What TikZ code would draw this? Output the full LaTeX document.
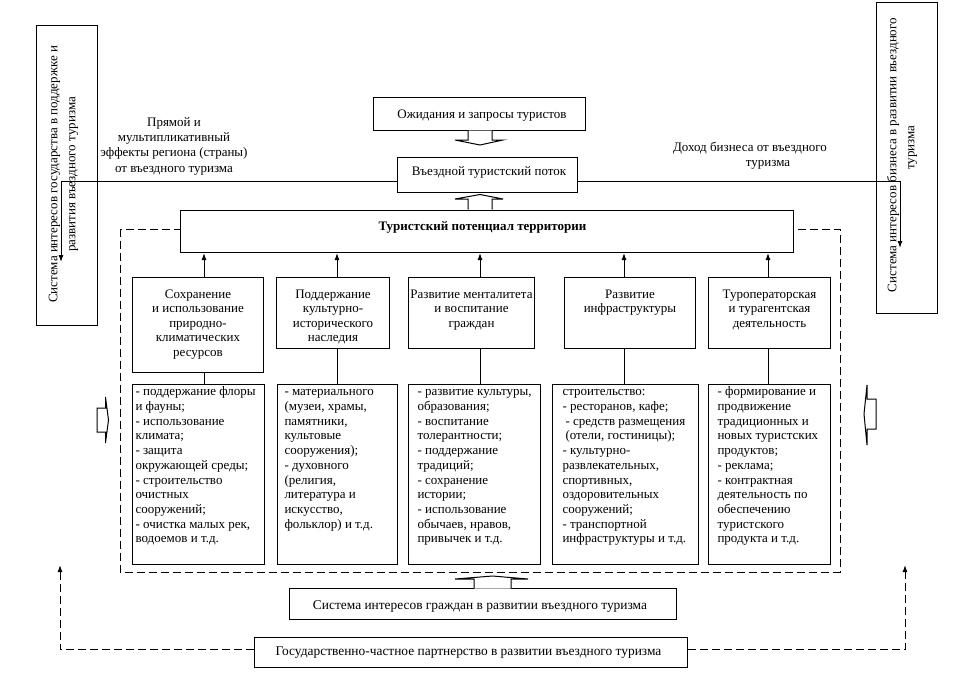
\documentclass[tikz,border=0pt]{standalone}
\usepackage{fontspec}
\setmainfont{Liberation Serif}
\usetikzlibrary{arrows.meta}
\begin{document}
\begin{tikzpicture}[x=1pt,y=-1pt,line width=1pt,
  box/.style={draw,rectangle,inner sep=0pt,anchor=north west,fill=white},
  ctxt/.style={font=\fontsize{13}{14.5}\selectfont,align=center,inner sep=0pt},
  btxt/.style={font=\fontsize{13.4}{14.5}\selectfont,align=center,inner sep=0pt},
  ltxt/.style={font=\fontsize{13}{14.7}\selectfont,align=left,inner sep=0pt,anchor=north west},
  rtxt/.style={font=\fontsize{13}{18}\selectfont,align=center,inner sep=0pt,rotate=90},
  arr/.style={-{Latex[length=7pt,width=5pt]}},
  dsh/.style={dash pattern=on 8pt off 4pt},
  blk/.style={draw,fill=white,line width=1pt},
]
\useasboundingbox (0,0) rectangle (961,673);

% dashed frame of the territory potential
\draw[dsh] (120,229) rectangle (840,572);

% side boxes
\node[box,minimum width=61,minimum height=300] (ls) at (36,25) {};
\node[rtxt] at (63.4,174.5) {Система интересов государства в поддержке и\\развития въездного туризма};
\node[box,minimum width=61,minimum height=311] (rs) at (876,2) {};
\node[rtxt] at (902,155) {Система интересов бизнеса в развитии въездного\\\hspace*{15pt}туризма};

% top boxes
\node[box,minimum width=212,minimum height=33] (exp) at (373,97) {};
\node[ctxt] at (482,116) {Ожидания и запросы туристов};
\node[box,minimum width=180,minimum height=35] (vp) at (397,157) {};
\node[ctxt] at (489,172) {Въездной туристский поток};
\node[box,minimum width=613,minimum height=42] (pot) at (180,210) {};
\node[ctxt,font=\fontsize{13}{14.5}\selectfont\bfseries] at (482.5,227) {Туристский потенциал территории};

% labels
\node[ctxt,font=\fontsize{13}{15.3}\selectfont,anchor=north] (lab1) at (174,115) {\strut Прямой и\\мультипликативный\\эффекты региона (страны)\\от въездного туризма};
\node[ctxt,anchor=north] (lab2) at (750,141) {\strut Доход бизнеса от въездного\\\hspace*{36pt}туризма};

% flows to the side boxes
\coordinate (lend) at (61,262);
\coordinate (rend) at (900,248);
\draw[arr] ([yshift=-6.5pt]vp.west) -| (lend);
\draw[arr] ([yshift=-6.5pt]vp.east) -| (rend);

% block arrows between top boxes
\draw[blk] (468,130.5) -- (468,140) -- (455,140) -- (480,145) -- (503,140) -- (492,140) -- (492,130.5);
\draw[blk] (468,209.5) -- (468,199) -- (455,199) -- (480,194.5) -- (503,199) -- (492,199) -- (492,209.5);

% upper boxes
\node[box,minimum width=131,minimum height=95] (u1) at (132,277) {};
\node[box,minimum width=113,minimum height=71] (u2) at (276,277) {};
\node[box,minimum width=126,minimum height=71] (u3) at (408,277) {};
\node[box,minimum width=131,minimum height=71] (u4) at (564,277) {};
\node[box,minimum width=122,minimum height=71] (u5) at (708,277) {};
\node[ctxt,anchor=north] at ([yshift=-10.7pt]u1.north) {\strut Сохранение\\и использование\\природно-\\климатических\\ресурсов};
\node[ctxt,anchor=north] at ([yshift=-10.7pt]u2.north) {\strut Поддержание\\культурно-\\исторического\\наследия};
\node[ctxt,anchor=north] at ([yshift=-10.7pt]u3.north) {\strut Развитие менталитета\\и воспитание\\граждан};
\node[ctxt,anchor=north] at ([yshift=-10.7pt]u4.north) {\strut Развитие\\инфраструктуры};
\node[ctxt,anchor=north] at ([yshift=-10.7pt]u5.north) {\strut Туроператорская\\и турагентская\\деятельность};

% lower boxes
\node[box,minimum width=132,minimum height=180] (l1) at (132,384) {};
\node[box,minimum width=120,minimum height=180] (l2) at (277,384) {};
\node[box,minimum width=132,minimum height=180] (l3) at (408,384) {};
\node[box,minimum width=146,minimum height=180] (l4) at (552,384) {};
\node[box,minimum width=122,minimum height=180] (l5) at (708,384) {};
\node[ltxt] at ([xshift=3pt,yshift=-1pt]l1.north west) {\strut - поддержание флоры\\и фауны;\\- использование\\климата;\\- защита\\окружающей среды;\\- строительство\\очистных\\сооружений;\\- очистка малых рек,\\водоемов и т.д.};
\node[ltxt] at ([xshift=7pt,yshift=-1pt]l2.north west) {\strut - материального\\(музеи, храмы,\\памятники,\\культовые\\сооружения);\\- духовного\\(религия,\\литература и\\искусство,\\фольклор) и т.д.};
\node[ltxt] at ([xshift=9pt,yshift=-1pt]l3.north west) {\strut - развитие культуры,\\образования;\\- воспитание\\толерантности;\\- поддержание\\традиций;\\- сохранение\\истории;\\- использование\\обычаев, нравов,\\привычек и т.д.};
\node[ltxt] at ([xshift=10pt,yshift=-1pt]l4.north west) {\strut строительство:\\- ресторанов, кафе;\\\hspace*{3pt}- средств размещения\\\hspace*{3pt}(отели, гостиницы);\\- культурно-\\развлекательных,\\спортивных,\\оздоровительных\\сооружений;\\- транспортной\\инфраструктуры и т.д.};
\node[ltxt] at ([xshift=9pt,yshift=-1pt]l5.north west) {\strut - формирование и\\продвижение\\традиционных и\\новых туристских\\продуктов;\\- реклама;\\- контрактная\\деятельность по\\обеспечению\\туристского\\продукта и т.д.};

% connectors upper/lower and arrows to the potential
\foreach \i/\x in {1/204,2/337,3/480,4/624,5/768}{
  \coordinate (c\i) at (\x,0);
  \draw (l\i.north -| c\i) -- (u\i.south -| c\i);
  \draw[arr] (u\i.north -| c\i) -- (pot.south -| c\i);
}

% side block arrows into the dashed frame
\draw[blk] (97,408) -- (105.5,408) -- (105.5,397) -- (108.5,420) -- (105.5,443) -- (105.5,432) -- (97,432) -- cycle;
\draw[blk] (876,399) -- (867,399) -- (867,385) -- (864,414) -- (867,445) -- (867,429) -- (876,429) -- cycle;

% bottom boxes
\node[box,minimum width=387,minimum height=31] (cit) at (289,588) {};
\node[btxt] at (480,606) {Система интересов граждан в развитии въездного туризма};
\node[box,minimum width=433,minimum height=30] (ppp) at (254,637) {};
\node[btxt] at (468.5,653) {Государственно-частное партнерство в развитии въездного туризма};

% block arrow from citizens to the frame
\draw[blk] (474,588.5) -- (474,579) -- (455,579) -- (492.5,576) -- (528,579) -- (511,579) -- (511,588.5);

% dashed feedback
\draw[dsh,arr] ([yshift=3pt]ppp.west) -| (60,565);
\draw[dsh,arr] ([yshift=3pt]ppp.east) -| (905,565);
\end{tikzpicture}
\end{document}
